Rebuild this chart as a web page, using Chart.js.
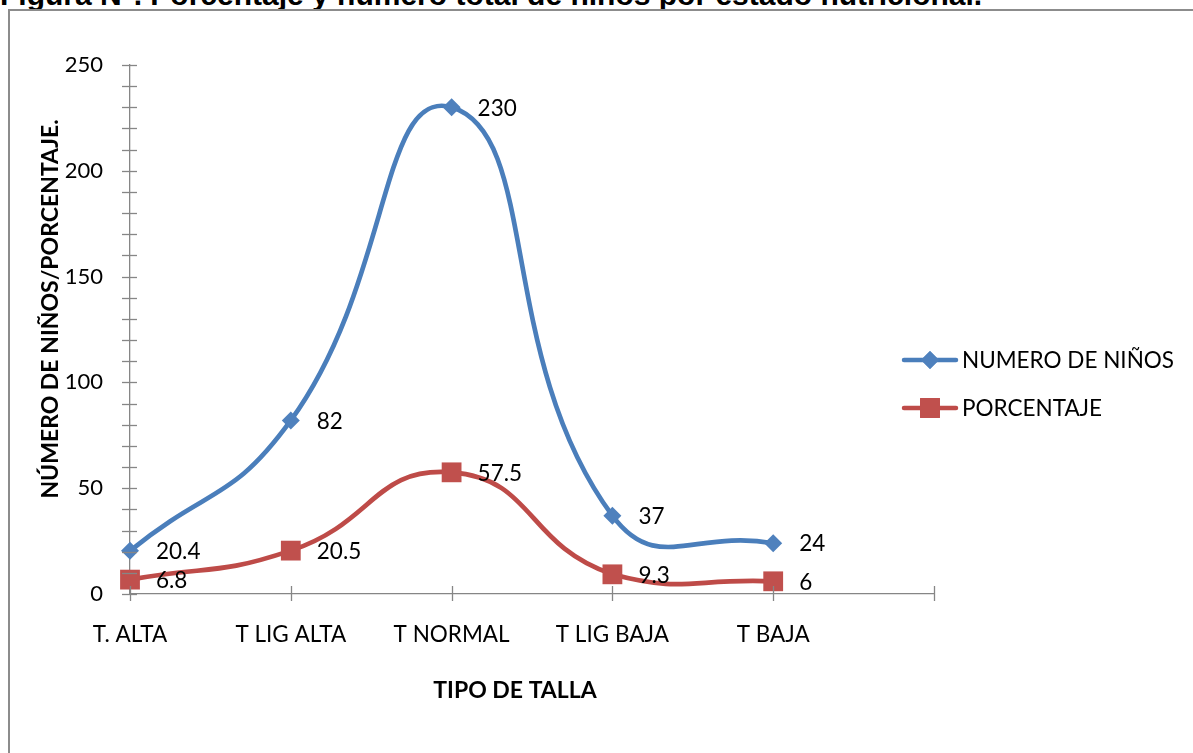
<!DOCTYPE html>
<html>
<head>
<meta charset="utf-8">
<script src="https://cdn.jsdelivr.net/npm/chart.js@4"></script>
<style>
  html, body { margin: 0; padding: 0; background: #fff; overflow: hidden; }
  body { width: 1193px; height: 753px; position: relative; }
  #caption {
    position: absolute; left: 0px; top: -20.5px;
    font: bold 30px "Liberation Sans", Arial, sans-serif; line-height: 30px;
    white-space: nowrap; color: #000;
  }
  #frame {
    position: absolute; left: 8px; top: 9px; width: 1300px; height: 900px;
    border: 2px solid #8c8c8c; box-sizing: border-box;
  }
  #wrap { position: absolute; left: 0; top: 0; width: 1193px; height: 753px; }
</style>
</head>
<body>
<div id="caption">Figura N°. Porcentaje y número total de niños por estado nutricional.</div>
<div id="frame"></div>
<div id="wrap"><canvas id="c" width="1193" height="753"></canvas></div>
<script>
// Categories (last slot is an empty category so the axis runs one step past T BAJA)
const categories = ['T. ALTA', 'T LIG ALTA', 'T NORMAL', 'T LIG BAJA', 'T BAJA', ''];
// Number of children per height class
const numeroNinos = [20.4, 82, 230, 37, 24];
// Percentage per height class
const porcentaje = [6.8, 20.5, 57.5, 9.3, 6];
const seriesNames = ['NUMERO DE NIÑOS', 'PORCENTAJE'];
const yMin = 0, yMax = 250, yMajor = 50, yMinor = 10;

const BLUE = '#4A7EBB', BLUE_M = '#4F81BD';
const RED = '#BE4B48', RED_M = '#C0504D';
const AXIS = '#868686';
const FONT = 'Lato, "Open Sans", sans-serif';

// Extra drawing: crossing tick marks, value labels, legend, axis titles
const decorations = {
  id: 'decorations',
  afterDraw(chart) {
    const ctx = chart.ctx;
    const xs = chart.scales.x, ys = chart.scales.y;
    const area = chart.chartArea;
    ctx.save();
    ctx.strokeStyle = AXIS;
    ctx.lineWidth = 1.3;
    // y-axis ticks (major and minor)
    for (let v = yMin; v <= yMax; v += yMinor) {
      const py = Math.round(ys.getPixelForValue(v)) + 0.5;
      ctx.beginPath();
      ctx.moveTo(area.left - 8, py);
      ctx.lineTo(area.left + 7, py);
      ctx.stroke();
    }
    // x-axis ticks
    for (let i = 0; i < categories.length; i++) {
      const px = Math.round(xs.getPixelForValue(i)) + 0.5;
      ctx.beginPath();
      ctx.moveTo(px, area.bottom - 8);
      ctx.lineTo(px, area.bottom + 7);
      ctx.stroke();
    }
    // value labels to the right of each point
    ctx.fillStyle = '#000';
    ctx.font = '22.5px ' + FONT;
    ctx.textAlign = 'left';
    ctx.textBaseline = 'middle';
    chart.data.datasets.forEach((ds, di) => {
      const meta = chart.getDatasetMeta(di);
      meta.data.forEach((pt, i) => {
        if (ds.data[i] == null) return;
        ctx.fillText(String(ds.data[i]), pt.x + 26, pt.y + 1);
      });
    });
    // legend
    const legendItems = [
      { name: seriesNames[0], color: BLUE, fill: BLUE_M, style: 'rectRot', r: 9, y: 360 },
      { name: seriesNames[1], color: RED, fill: RED_M, style: 'rect', r: 14, y: 408 }
    ];
    legendItems.forEach(it => {
      ctx.strokeStyle = it.color;
      ctx.lineWidth = 4.5;
      ctx.lineCap = 'round';
      ctx.beginPath();
      ctx.moveTo(904, it.y);
      ctx.lineTo(956, it.y);
      ctx.stroke();
      ctx.fillStyle = it.fill;
      Chart.helpers.drawPoint(ctx, { pointStyle: it.style, radius: it.r, borderWidth: 0, rotation: 0 }, 930, it.y);
      ctx.fill();
      ctx.fillStyle = '#000';
      ctx.font = '22.5px ' + FONT;
      ctx.textAlign = 'left';
      ctx.textBaseline = 'middle';
      ctx.fillText(it.name, 962, it.y + 1);
    });
    // axis titles
    ctx.font = 'bold 23px ' + FONT;
    ctx.textAlign = 'center';
    ctx.textBaseline = 'middle';
    ctx.fillText('TIPO DE TALLA', 515, 691);
    ctx.translate(51, 309);
    ctx.rotate(-Math.PI / 2);
    ctx.fillText('NÚMERO DE NIÑOS/PORCENTAJE.', 0, 0);
    ctx.restore();
  }
};

new Chart(document.getElementById('c'), {
  type: 'line',
  data: {
    labels: categories,
    datasets: [
      {
        label: seriesNames[0], data: numeroNinos,
        borderColor: BLUE, borderWidth: 4.7, tension: 0.5,
        pointStyle: 'rectRot', pointRadius: 9, pointHoverRadius: 9,
        pointBackgroundColor: BLUE_M, pointBorderWidth: 0
      },
      {
        label: seriesNames[1], data: porcentaje,
        borderColor: RED, borderWidth: 4.7, tension: 0.5,
        pointStyle: 'rect', pointRadius: 14, pointHoverRadius: 14,
        pointBackgroundColor: RED_M, pointBorderWidth: 0
      }
    ]
  },
  options: {
    responsive: false,
    animation: false,
    events: [],
    layout: { padding: { top: 65, right: 259, left: 0, bottom: 0 } },
    plugins: { legend: { display: false }, tooltip: { enabled: false } },
    scales: {
      x: {
        type: 'category',
        offset: false,
        grid: { display: true, drawOnChartArea: false, color: 'rgba(0,0,0,0)', tickLength: 8 },
        border: { display: true, color: AXIS, width: 1.3 },
        ticks: { color: '#000', font: { family: FONT, size: 22.5 }, padding: 19, autoSkip: false, maxRotation: 0 },
        afterFit(s) { s.height = 159; }
      },
      y: {
        min: yMin, max: yMax,
        grid: { display: true, drawOnChartArea: false, color: 'rgba(0,0,0,0)', tickLength: 8 },
        border: { display: true, color: AXIS, width: 1.3 },
        ticks: { stepSize: yMajor, color: '#000', font: { family: FONT, size: 22 }, padding: 19 },
        afterFit(s) { s.width = 130; }
      }
    }
  },
  plugins: [decorations]
});
</script>
</body>
</html>
